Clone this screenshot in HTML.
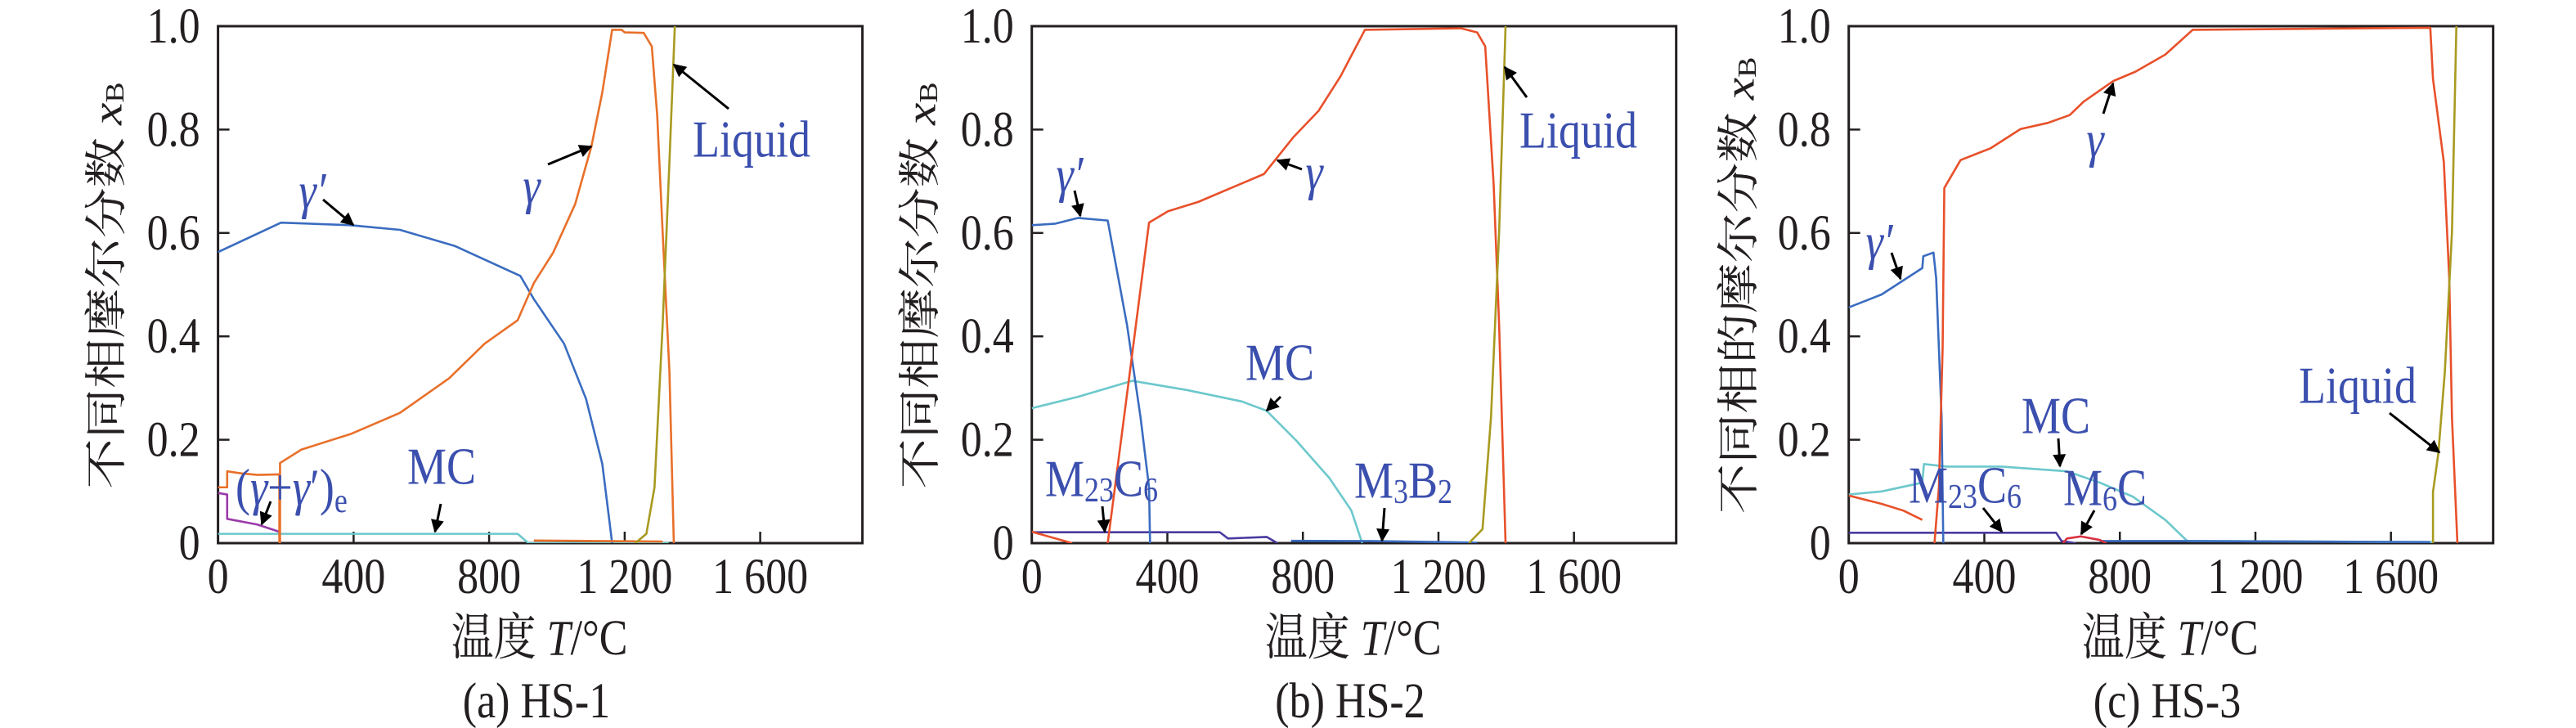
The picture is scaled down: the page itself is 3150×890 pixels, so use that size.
<!DOCTYPE html>
<html><head><meta charset="utf-8"><style>
html,body{margin:0;padding:0;background:#fff;}
svg{display:block;}
text{font-family:"Liberation Serif","Times New Roman",Times,"DejaVu Serif","Noto Serif CJK SC",serif;transform-box:fill-box;transform-origin:center;transform:scaleY(1.18);}
text.rot{transform:scaleX(1.18);}
.t{font-size:52px;fill:#231f20;}
.lb{font-size:54px;fill:#3b4fae;}
.it{font-style:italic;}
.ln{fill:none;stroke-width:2.6;vector-effect:non-scaling-stroke;stroke-linejoin:round;}
.ar{stroke:#000;stroke-width:3;marker-end:url(#ah2);}
</style></head><body>
<svg width="3150" height="890" viewBox="0 0 3150 890" xmlns="http://www.w3.org/2000/svg" font-family="'Liberation Serif', 'Times New Roman', serif">
<defs>
<marker id="ah2" viewBox="0 0 10 10" refX="9" refY="5" markerWidth="24" markerHeight="16" orient="auto" markerUnits="userSpaceOnUse"><path d="M0,0 L10,5 L0,10 z" fill="#000"/></marker>
<g id="axes">
<rect x="0" y="0" width="788" height="632" fill="none" stroke="#231f20" stroke-width="3"/>
<g stroke="#231f20" stroke-width="2.5">
<line x1="0" y1="126.4" x2="14" y2="126.4"/><line x1="0" y1="252.8" x2="14" y2="252.8"/><line x1="0" y1="379.2" x2="14" y2="379.2"/><line x1="0" y1="505.6" x2="14" y2="505.6"/>
<line x1="165.8" y1="632" x2="165.8" y2="618"/><line x1="331.5" y1="632" x2="331.5" y2="618"/><line x1="497.3" y1="632" x2="497.3" y2="618"/><line x1="663" y1="632" x2="663" y2="618"/>
</g>
<g class="t" text-anchor="end" dominant-baseline="central">
<text x="-22" y="0">1.0</text><text x="-22" y="126.4">0.8</text><text x="-22" y="252.8">0.6</text><text x="-22" y="379.2">0.4</text><text x="-22" y="505.6">0.2</text><text x="-22" y="632">0</text>
</g>
<g class="t" text-anchor="middle" dominant-baseline="central">
<text x="0" y="673">0</text><text x="165.8" y="673">400</text><text x="331.5" y="673">800</text><text x="497.3" y="673">1 200</text><text x="663" y="673">1 600</text>
</g>
<text class="t" x="393" y="748" text-anchor="middle" dominant-baseline="central">温度 <tspan class="it">T</tspan>/°C</text>
</g>
</defs>

<!-- Panel A -->
<use href="#axes" x="266.6" y="32"/>
<g transform="translate(131,349) rotate(-90)"><text class="t rot" font-size="46" x="0" y="0" text-anchor="middle" dominant-baseline="central">不同相摩尔分数 <tspan class="it">x</tspan><tspan font-size="32" dy="9">B</tspan></text></g>
<text class="t" x="656" y="857" text-anchor="middle" dominant-baseline="central">(a) HS-1</text>
<svg x="266.6" y="32" width="788" height="632" overflow="hidden">
<g transform="translate(0,632) scale(0.4144,-632)">
<polyline class="ln" stroke="#6cc8cc" points="0,0.018 884,0.018 916,0 1330,0"/>
<polyline class="ln" stroke="#9a3aa8" points="0,0.097 27,0.094 27,0.047 116,0.036 181,0.022 183,0"/>
<polyline class="ln" stroke="#3a6cc0" points="0,0.563 186,0.62 391,0.615 537,0.606 698,0.575 892,0.517 932,0.472 1021,0.386 1086,0.279 1134,0.153 1163,0"/>
<polyline class="ln" stroke="#e8702a" points="0,0.108 27,0.108 27,0.139 68,0.135 116,0.132 181,0.133 181,0"/>
<polyline class="ln" stroke="#e8702a" points="183,0 183,0.155 246,0.181 391,0.211 537,0.252 682,0.319 787,0.386 884,0.431 932,0.503 989,0.562 1054,0.656 1102,0.768 1134,0.872 1163,0.993 1191,0.993 1200,0.988 1256,0.987 1280,0.961 1296,0.827 1312,0.602 1332,0.332 1345,0"/>
<polyline class="ln" stroke="#e8702a" points="932,0.005 1312,0.003"/>
<polyline class="ln" stroke="#a89a20" points="1231,0 1264,0.018 1288,0.108 1312,0.422 1332,0.737 1348,1"/>
</g></svg>
<text class="lb it" x="382" y="233" text-anchor="middle" dominant-baseline="central">γ′</text>
<line class="ar" x1="395" y1="244" x2="432" y2="275"/>
<text class="lb it" x="650" y="227" text-anchor="middle" dominant-baseline="central">γ</text>
<line class="ar" x1="670" y1="201" x2="723" y2="179"/>
<text class="lb" x="919" y="170" text-anchor="middle" dominant-baseline="central">Liquid</text>
<line class="ar" x1="891" y1="133" x2="824" y2="79"/>
<text class="lb" x="540" y="570" text-anchor="middle" dominant-baseline="central">MC</text>
<line class="ar" x1="539" y1="616" x2="532" y2="650"/>
<text class="lb" x="288" y="596" dominant-baseline="central">(<tspan class="it">γ</tspan>+<tspan class="it">γ</tspan>′)<tspan font-size="36" dy="14">e</tspan></text>
<line class="ar" x1="331" y1="613" x2="320" y2="641"/>

<!-- Panel B -->
<use href="#axes" x="1261.7" y="32"/>
<g transform="translate(1126,349) rotate(-90)"><text class="t rot" font-size="46" x="0" y="0" text-anchor="middle" dominant-baseline="central">不同相摩尔分数 <tspan class="it">x</tspan><tspan font-size="32" dy="9">B</tspan></text></g>
<text class="t" x="1651" y="857" text-anchor="middle" dominant-baseline="central">(b) HS-2</text>
<svg x="1261.7" y="32" width="788" height="632" overflow="hidden">
<g transform="translate(0,632) scale(0.4144,-632)">
<polyline class="ln" stroke="#6cc8cc" points="0,0.261 136,0.283 297,0.314 459,0.296 620,0.274 693,0.256 781,0.198 878,0.126 943,0.063 975,0"/>
<polyline class="ln" stroke="#4a3aa0" points="0,0.021 555,0.021 579,0.009 693,0.012 725,0"/>
<polyline class="ln" stroke="#3a6cc0" points="765,0.0045 1000,0.004 1314,0.001"/>
<polyline class="ln" stroke="#3a6cc0" points="0,0.615 70,0.618 136,0.629 224,0.624 281,0.422 321,0.243 346,0.108 349,0"/>
<polyline class="ln" stroke="#e8502a" points="0,0.022 119,0"/>
<polyline class="ln" stroke="#e8502a" points="224,0 281,0.288 346,0.62 402,0.642 491,0.66 588,0.687 685,0.714 773,0.786 846,0.836 911,0.903 983,0.993 1266,0.996 1314,0.988 1338,0.961 1363,0.692 1379,0.422 1398,0"/>
<polyline class="ln" stroke="#a89a20" points="1290,0 1330,0.027 1355,0.243 1379,0.602 1398,1"/>
</g></svg>
<text class="lb it" x="1308" y="213" text-anchor="middle" dominant-baseline="central">γ′</text>
<line class="ar" x1="1314" y1="233" x2="1321" y2="264"/>
<text class="lb it" x="1607" y="210" text-anchor="middle" dominant-baseline="central">γ</text>
<line class="ar" x1="1592" y1="207" x2="1562" y2="196"/>
<text class="lb" x="1930" y="159" text-anchor="middle" dominant-baseline="central">Liquid</text>
<line class="ar" x1="1867" y1="119" x2="1840" y2="82"/>
<text class="lb" x="1565" y="443" text-anchor="middle" dominant-baseline="central">MC</text>
<line class="ar" x1="1566" y1="485" x2="1549" y2="502"/>
<text class="lb" x="1278" y="585" dominant-baseline="central">M<tspan font-size="36" dy="12">23</tspan><tspan dy="-12">C</tspan><tspan font-size="36" dy="12">6</tspan></text>
<line class="ar" x1="1348" y1="619" x2="1351" y2="650"/>
<text class="lb" x="1656" y="587" dominant-baseline="central">M<tspan font-size="36" dy="12">3</tspan><tspan dy="-12">B</tspan><tspan font-size="36" dy="12">2</tspan></text>
<line class="ar" x1="1693" y1="621" x2="1690" y2="661"/>

<!-- Panel C -->
<use href="#axes" x="2260.7" y="32"/>
<g transform="translate(2127,349) rotate(-90)"><text class="t rot" font-size="46" x="0" y="0" text-anchor="middle" dominant-baseline="central">不同相的摩尔分数 <tspan class="it">x</tspan><tspan font-size="32" dy="9">B</tspan></text></g>
<text class="t" x="2650" y="857" text-anchor="middle" dominant-baseline="central">(c) HS-3</text>
<svg x="2260.7" y="32" width="788" height="632" overflow="hidden">
<g transform="translate(0,632) scale(0.4144,-632)">
<polyline class="ln" stroke="#6cc8cc" points="0,0.094 97,0.1 217,0.117 222,0.153 290,0.148 451,0.148 644,0.139 741,0.117 838,0.09 934,0.045 999,0.004 1724,0.002"/>
<polyline class="ln" stroke="#4a3aa0" points="0,0.02 612,0.02 628,0.004 670,0"/>
<polyline class="ln" stroke="#3a6cc0" points="741,0.004 1000,0.004 1716,0.002"/>
<polyline class="ln" stroke="#d83040" points="632,0 644,0.009 685,0.013 741,0.006 760,0"/>
<polyline class="ln" stroke="#3a6cc0" points="0,0.456 97,0.481 217,0.532 220,0.555 250,0.562 258,0.512 266,0.377 274,0.243 279,0"/>
<polyline class="ln" stroke="#e8502a" points="0,0.092 97,0.076 161,0.063 217,0.045"/>
<polyline class="ln" stroke="#e8502a" points="253,0 266,0.108 277,0.377 282,0.687 330,0.741 419,0.764 507,0.801 588,0.813 652,0.828 693,0.854 781,0.894 846,0.912 934,0.945 1015,0.993 1716,0.997 1724,0.898 1756,0.737 1772,0.512 1780,0.243 1796,0"/>
<polyline class="ln" stroke="#a89a20" points="1724,0 1724,0.099 1740,0.175 1759,0.332 1780,0.602 1793,1"/>
</g></svg>
<text class="lb it" x="2298" y="295" text-anchor="middle" dominant-baseline="central">γ′</text>
<line class="ar" x1="2313" y1="309" x2="2324" y2="341"/>
<text class="lb it" x="2562" y="170" text-anchor="middle" dominant-baseline="central">γ</text>
<line class="ar" x1="2572" y1="139" x2="2584" y2="102"/>
<text class="lb" x="2883" y="471" text-anchor="middle" dominant-baseline="central">Liquid</text>
<line class="ar" x1="2922" y1="505" x2="2983" y2="553"/>
<text class="lb" x="2514" y="508" text-anchor="middle" dominant-baseline="central">MC</text>
<line class="ar" x1="2517" y1="536" x2="2519" y2="570"/>
<text class="lb" x="2334" y="593" dominant-baseline="central">M<tspan font-size="36" dy="12">23</tspan><tspan dy="-12">C</tspan><tspan font-size="36" dy="12">6</tspan></text>
<line class="ar" x1="2425" y1="621" x2="2448" y2="650"/>
<text class="lb" x="2523" y="596" dominant-baseline="central">M<tspan font-size="36" dy="12">6</tspan><tspan dy="-12">C</tspan></text>
<line class="ar" x1="2561" y1="624" x2="2545" y2="653"/>
</svg>
</body></html>
